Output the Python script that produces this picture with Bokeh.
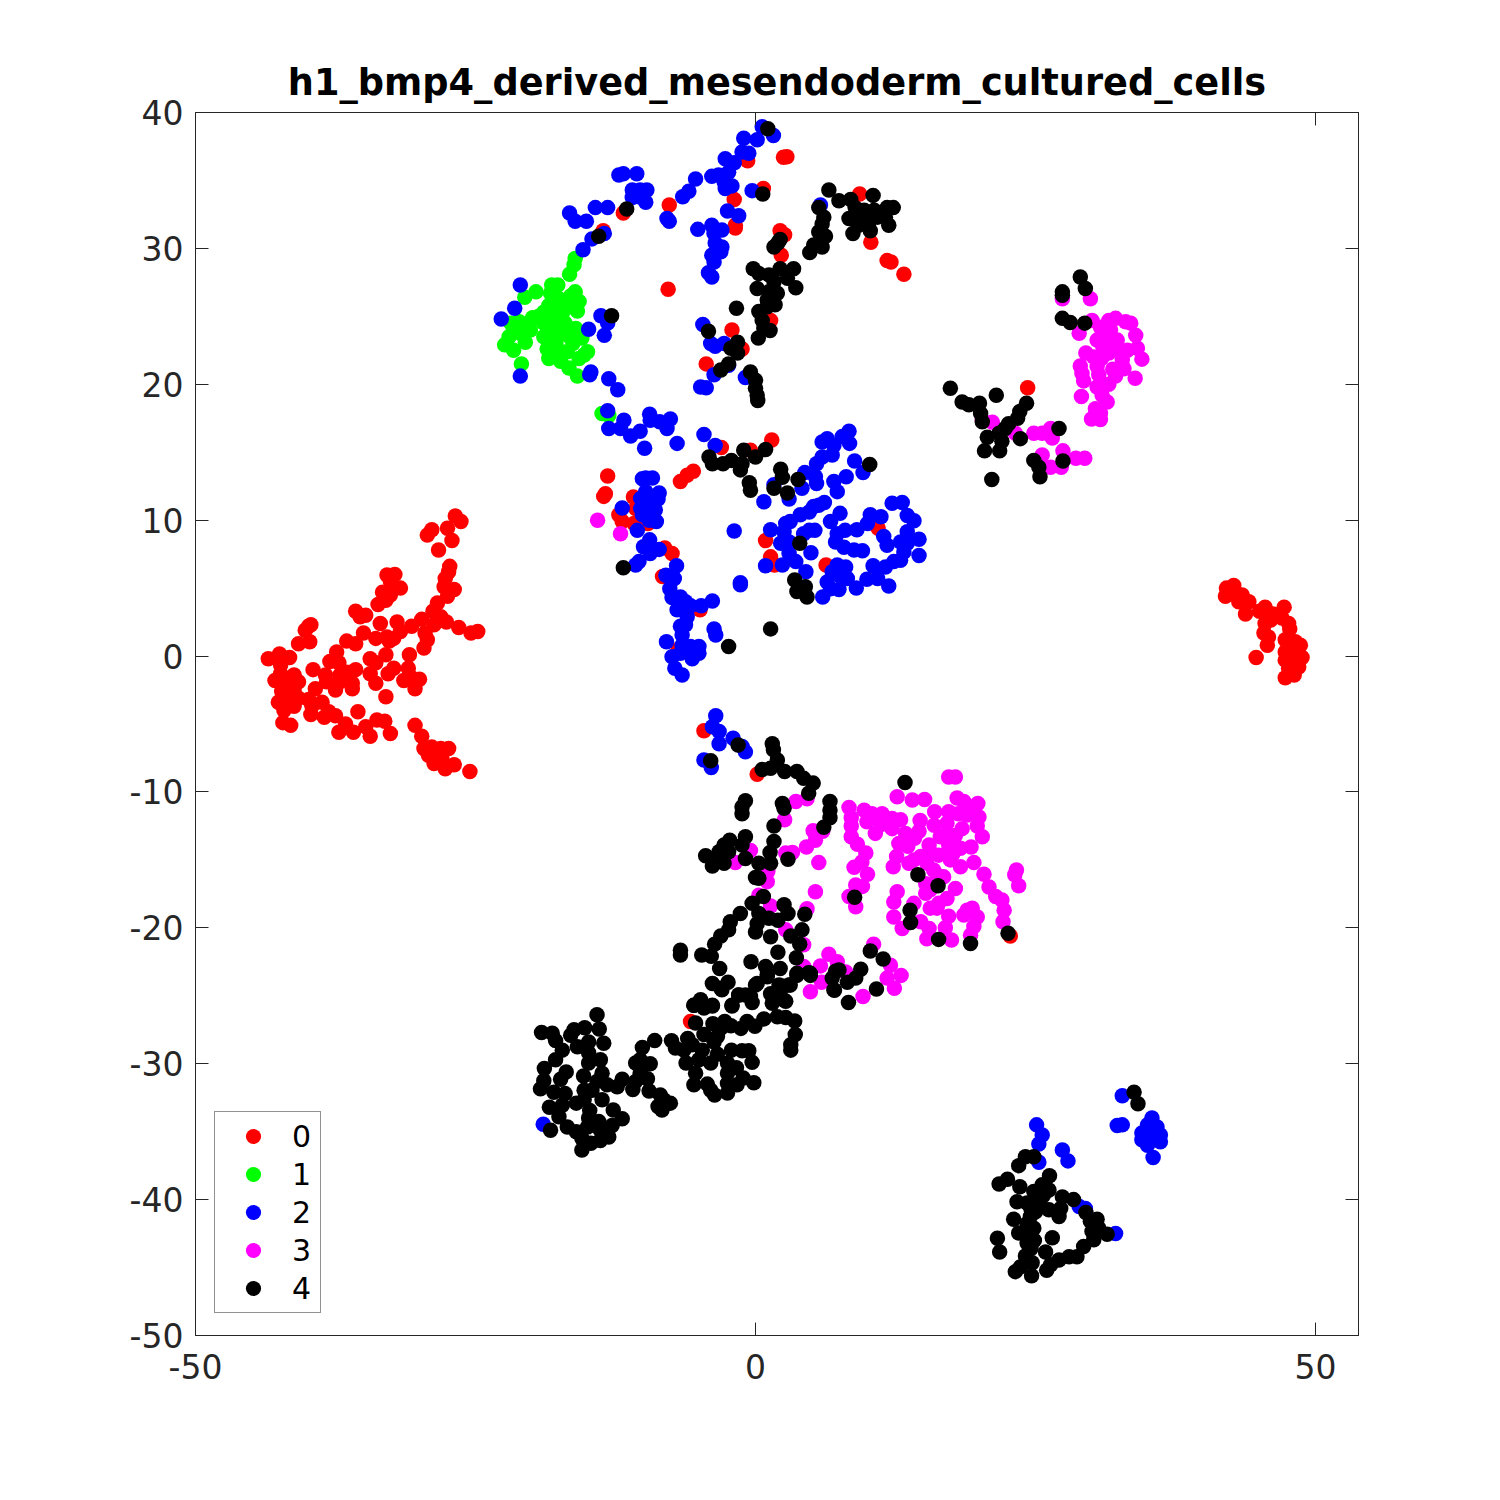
from bokeh.plotting import figure
from bokeh.embed import file_html
from bokeh.resources import INLINE
from bokeh.models import Legend, LegendItem, LinearAxis, FixedTicker, Range1d, ColumnDataSource

title_text = "h1_bmp4_derived_mesendoderm_cultured_cells"
x_ticks = [-50, 0, 50]
y_ticks = [-50, -40, -30, -20, -10, 0, 10, 20, 30, 40]
labels = ["0", "1", "2", "3", "4"]
colors = ["#ff0000", "#00ff00", "#0000ff", "#ff00ff", "#000000"]

cluster_0 = [
(-26.8,10.3),(-26.3,9.9),(-27.5,9.4),(-28.9,9.3),(-29.3,8.9),(-27.1,8.5),(-28.3,7.8),(-27.3,6.6),(-27.4,6.2),(-27.7,5.7),
(-27.8,5.1),(-26.9,4.9),(-27.5,4.4),(-28.4,3.9),(-28.8,3.3),(-28.1,2.9),(-27.6,2.5),(-26.5,2.1),(-25.4,1.7),(-24.8,1.8),
(-29.8,2.7),(-28.7,2.3),(-29.5,1.7),(-29.3,1.2),(-29.6,0.6),(-30.7,2.2),(-32,2.5),(-31.7,1.8),(-32.3,1.3),(-32.9,1.4),
(-33.9,1.3),(-33.5,2.4),(-32.7,1.1),(-33,0.1),(-30.9,0.1),(-31,-0.9),(-31.4,-1.8),(-30.7,-1.6),(-30,-1.7),(-30.4,-2.4),
(-32.3,-0.9),(-32.8,-1.3),(-34.4,-0.2),(-33.9,-0.5),(-34.4,-1.3),(-33.9,-2),(-33,-3),(-32.9,5.96),(-32.2,6),(-32.6,5.5),
(-31.7,5),(-32.4,5),(-33.3,4.7),(-32.6,4.5),(-33,4.1),(-33.7,3.8),(-35.7,3.3),(-35.3,2.9),(-34.8,3),(-35,1.7),
(-35.7,0.9),(-36.5,1.1),(-37.4,0.3),(-38,-0.4),(-37.2,-0.5),(-35.7,-1),(-36.5,-1.2),(-37.1,-1.4),(-36,-2),(-36,-2.4),
(-37.1,-1.9),(-37.5,-2.5),(-38.4,-1.4),(-38.3,-1.9),(-39.5,-1),(-39.3,-2.4),(-39.9,2.2),(-39.7,2.3),(-40.2,1.9),(-39.8,1.06),
(-40.8,0.9),(-43.5,-0.2),(-42.5,0.15),(-41.6,-0.1),(-42.4,-0.66),(-42.4,-1.3),(-42.9,-1.8),(-41.2,-1.4),(-40.8,-1.9),(-42,-1.9),
(-42.3,-2.6),(-41.2,-2.5),(-42.6,-3.4),(-41.8,-3.2),(-40.8,-3.1),(-42.1,-4),(-41.2,-3.7),(-39.9,-3.2),(-38.7,-3.4),(-39.7,-4.3),
(-39.6,-3.7),(-38.5,-4.5),(-38.1,-4.1),(-37.5,-4.4),(-35.5,-4.1),(-42.2,-4.9),(-41.5,-5.1),(-36.6,-5),(-37.2,-5.6),(-35.9,-5.6),
(-34.8,-5.2),(-34.4,-5.9),(-33.8,-4.7),(-33.1,-4.8),(-32.6,-5.7),(-30.4,-5.1),(-29.8,-5.9),(-29.6,-6.8),(-28.9,-6.7),(-28.1,-6.8),
(-27.4,-6.8),(-29.2,-7.3),(-28.4,-7.4),(-28.7,-7.9),(-27.7,-8.3),(-26.9,-8),(-28,-7.5),(-25.5,-8.5),
(42.7,5.2),(42.05,5),(41.96,4.4),(42.86,4.7),(43.45,4.5),(44.05,4),(43.15,4),(43.75,3.1),(45,3.3),(45.5,3.6),
(47.2,3.6),(46.2,3.1),(47,2.8),(47.6,2.4),(45.5,2.4),(46,2.65),(45.4,1.7),(45.8,1.4),(45.7,0.8),(47.7,2),
(47.3,1.2),(48.2,1.06),(48.65,0.8),(47.3,0.3),(48.1,0.4),(48.8,-0.1),(47.3,-0.3),(48.2,-0.3),(48.5,-0.8),(47.6,-0.9),
(48.1,-1.4),(47.3,-1.6),(44.7,-0.1),
(2.5,36.7),(2.8,36.75),(-0.7,36.45),(0.7,34.4),(-1.9,33.6),(-7.7,33.2),(-11.8,32.6),(-13.6,31.3),(-1.8,31.5),(-1.8,31.7),
(2.2,31.3),(2.6,31),(2.3,29.5),(-7.8,27),(-2.1,24),(1.35,24.7),(-1.2,22.6),(-4.4,21.5),(9.3,34),(10.3,30.45),
(11.75,29.1),(12.1,29),(13.25,28.1),
(1.45,15.9),(-3.05,15.35),(-0.45,15.15),(-5.55,13.6),(-6.1,13.3),(-6.7,12.85),(-13.2,13.25),(-13.4,11.95),(-13.55,11.75),(-10.9,11.7),
(-10.7,10.85),(-12.2,10.4),(-11.9,9.9),(-10.85,9.75),(-9.6,9.75),(-8.1,7.95),(-7.45,7.55),(-8.3,5.85),(-4.95,3.4),(-6.9,0.5),
(10.95,9.4),(0.9,8.5),(1.35,7.3),(1.7,6.7),(6.3,6.7),
(24.3,19.75),(-4.6,-5.5),(0.15,-8.7),(22.75,-20.6),(-5.8,-26.9),
]

cluster_1 = [
(-16.1,29.25),(-16.2,28.8),(-16.6,28.1),(-18.2,27.3),(-17.65,27.3),(-19.6,26.8),(-20.6,26.4),(-18.3,26.7),(-17.55,26.3),(-16.1,26.8),
(-15.75,26.1),(-18.45,25.8),(-16.65,25.7),(-17.25,25.2),(-19.35,25),(-17.85,24.7),(-21.1,24.6),(-21.85,24.5),(-20.2,24.5),(-18.9,24.5),
(-17,24.5),(-21.6,24),(-20.1,24),(-18.45,24),(-16.05,24.1),(-17.4,24),(-22,23.5),(-18.9,23.5),(-17.85,23.5),(-16.8,23.6),
(-15.5,23.4),(-20.55,23.1),(-22.4,22.9),(-21.6,22.5),(-18.6,22.6),(-15,22.4),(-16.8,22.4),(-15.75,21.9),(-18.45,21.9),(-17.4,21.7),
(-16.65,21.2),(-20.9,21.5),(-15.9,20.6),(-15.3,22.15),(-13.7,17.85),(-13.1,17.7),
(-17.8,22.9),(-19.9,24.9),(-16.3,23),(-17.9,25.6),(-18.9,25.3),(-17.6,22.3),(-15.9,25.4),(-20.9,23.7),(-16.5,26.5),
]

cluster_2 = [
(0.6,38.95),(1.6,38.3),(0.15,38),(-1.05,38.1),(-1.2,37.1),(-0.6,37),(-2.7,36.6),(-1.9,36.3),(-2.4,35.6),(-3.9,35.3),
(-3.3,35.4),(-2.8,34.9),(-2.7,34.4),(-2.1,34.6),(-5.35,35.1),(-5.95,34.2),(-6.5,33.8),(-0.3,34.25),(-12.2,35.4),(-11.8,35.5),
(-10.6,35.5),(-11,34.3),(-9.7,34.3),(-10.3,34.3),(-11,33.75),(-9.8,33.4),(-10.4,33.8),(-16.6,32.6),(-16.1,32),(-15.1,32),
(-14.3,33),(-13.2,33),(-7.9,32.2),(-7.7,32),(-2.5,32.75),(-1.5,32.4),(-14.6,30.7),(-13.5,31.1),(-15.4,29.9),(-5.15,31.4),
(-3.9,31.7),(-3,31.35),(-3.7,31.1),(-3.6,30.4),(-3,30.1),(-3.9,29.5),(-3.1,29.75),(-3.7,29),(-4.2,28.2),(-3.9,27.9),
(-21,27.3),(-21.5,25.6),(-22.7,24.8),(-13.8,25.05),(-14.9,24.05),(-13.2,24.5),(-13.5,23.6),(-4.7,24.4),(-4,23),(-2.8,23),
(-3.6,22.8),(-3.7,20.7),(-2.4,21.4),(-0.9,20.5),(-4.9,19.8),(-4.4,19.75),(-14.7,20.9),(-14.8,20.7),(-13.1,20.4),(-12.3,19.6),
(-21,20.6),(5.8,33.2),
(-13.2,18.05),(-13.1,16.75),(-11.75,17.35),(-12.05,16.75),(-11.15,16.2),(-10.3,16.55),(-9.9,15.3),(-9.45,17.8),(-9.4,17.35),(-8.55,17.25),
(-7.6,17.45),(-7.9,16.75),(-7,15.65),(-4.6,16.3),(-3.6,15.5),(-9.8,13.1),(-9.2,13.1),(-10.1,13.05),(-9.8,12.1),(-8.6,12),
(-8.7,11.55),(-10.25,11.6),(-9.7,11.35),(-11.9,10.9),(-10.25,10.85),(-8.95,10.75),(-9.4,10.5),(-10.1,10.4),(-8.85,9.9),(-9.5,10),
(-10.55,9.25),(-9.45,8.55),(-10,8.05),(-9.4,7.55),(-8.6,7.85),(-10.4,6.95),(-10.7,6.7),(-7.05,6.65),(-8,5.95),(-7.25,5.7),
(-7.65,4.95),(-7.45,4.3),(-6.7,4.35),(-6.25,4),(-7,3.4),(-5.8,3.7),(-4.85,3.7),(-3.85,4.05),(-6.1,2.9),(-6.25,2.3),
(-6.7,2.2),(-6.55,1.55),(-3.7,2),(-3.55,1.55),(-7.95,1.05),(-6.55,0.8),(-5.8,0.7),(-5.05,0.7),(-5.05,0.2),(-7.45,-0.05),
(-6.7,0.2),(-5.65,-0.2),(-7.2,-0.9),(-6.55,-1.4),(-1.9,9.2),(-1.35,5.4),(-1.35,5.25),(0.75,11.35),(1.35,9.3),(0.9,6.65),
(2.4,6.7),(3,11.55),(1.65,12.6),(2.7,9.75),(2.55,9.15),(2.25,8.3),(3.1,9.9),(3,8.4),(3,7.55),(3.6,6.95),
(4.5,6.2),(4,10.4),(4.8,10.6),(5.2,11),(6.15,11.3),(5.65,11.1),(4.8,9.25),(5.3,9.25),(4.95,7.6),(4.3,9),
(7.55,10.5),(6.7,9.9),(7.3,9),(7.15,8.4),(8,9.25),(9.05,9.3),(7.9,8),(8.8,7.8),(9.55,7.75),(10,9.75),
(10.25,10.4),(11.2,10.25),(12.2,11.25),(13.1,11.3),(13.55,10.35),(14.15,9.95),(13.55,9.15),(11.45,8.8),(11.75,8.15),(14.6,8.6),
(12.95,8.4),(13.55,8.3),(14.6,7.4),(13.25,7.65),(12.95,7.05),(12.35,6.95),(11.6,6.55),(10.5,6.65),(9.95,5.65),(10.9,5.7),
(11.9,5.15),(9,5),(7.3,6.7),(8.05,6.55),(6.85,6.2),(7.6,5.85),(8.2,5.7),(6.4,5.45),(7.45,4.9),(6.7,4.95),
(6,4.35),(6.4,16),(5.95,15.75),(8.35,16.55),(7.75,16.15),(8.4,15.65),(7,15.5),(6.85,14.8),(5.95,14.65),(5.45,14.15),
(4.4,13.5),(5.35,13.2),(5.45,12.7),(4.15,12.35),(7,12.85),(8.1,13.2),(7.3,12.1),(8.85,14.35),(9.6,13.5),
(32.75,-32.35),(32.3,-34.55),(32.75,-34.5),(35.4,-34),(35,-34.5),(35.85,-34.65),(34.5,-35.1),(35.25,-35),(36.15,-35.25),(34.5,-35.6),
(35.4,-35.6),(36.15,-35.75),(35,-36),(35.5,-36.9),(25.1,-34.5),(25.6,-35.25),(25.3,-35.9),(27.4,-36.35),(27.9,-37.15),(25.3,-37.25),
(28.9,-40.5),(29.45,-40.65),(32.15,-42.5),
(-3.55,-4.4),(-3.85,-5.2),(-3.25,-5.55),(-3.25,-6.45),(-2,-6.05),(-0.9,-7.05),(-4.6,-7.65),(-3.95,-8.2),(-1.2,-6.65),(-18.95,-34.45),
]

cluster_3 = [
(-14.1,10),(-12.05,9),
(29.9,26.3),(27.4,26.3),(28.9,23.75),(30.05,24.7),(31.55,24.7),(32.15,24.85),(33.05,24.6),(33.5,24.5),(33.95,23.6),(30.8,24.2),
(31.7,24),(30.5,23.25),(31.4,23.4),(32.3,23.25),(31.1,23.85),(34.1,22.65),(33.2,22.5),(34.5,21.85),(31.55,22.3),(29.5,22.3),
(30.2,22),(32.75,21.8),(29,21.35),(30.5,21.3),(32.9,21.15),(29.15,20.8),(30.65,20.7),(32.15,20.6),(29.3,20.25),(33.9,20.45),
(31.55,20),(30.5,19.8),(29.1,19.1),(30.95,19.2),(31.4,18.7),(30.35,18.2),(30.8,17.85),(30,17.45),(30.8,17.4),(20.25,17.4),
(21.15,17.2),(23.2,16.4),(24.85,16.4),(25.6,16.4),(26.35,16.75),(26.5,16.05),(25.6,14.8),(27.45,15.1),(28.6,14.55),(29.4,14.55),
(26.35,13.9),(27.3,13.9),
(17.25,-8.9),(17.85,-8.9),(12.65,-10.35),(14,-10.6),(15.1,-10.55),(18,-10.45),(18.6,-10.7),(19.85,-10.85),(19.2,-11.1),(16,-11.45),
(17.25,-11.45),(18.9,-11.7),(19.95,-11.85),(8.35,-11.15),(9.7,-11.35),(10.4,-11.6),(11.3,-11.6),(8.55,-11.9),(9.95,-12.2),(12.2,-11.95),
(12.95,-12.05),(14.7,-12.1),(8.55,-12.5),(10.7,-13.05),(12.2,-12.7),(13.4,-13.05),(15.95,-12.45),(17.1,-12.3),(18.45,-12.7),(19.8,-12.5),
(17.85,-13.2),(16.5,-13.3),(20.25,-13.3),(8.55,-13.3),(9.1,-13.85),(12.8,-13.8),(13.6,-14),(15.5,-13.9),(17.25,-13.9),(19.25,-14.05),
(18.3,-14.15),(9.85,-14.5),(12.6,-14.75),(16.35,-14.65),(14.75,-14.75),(14.15,-15),(17.4,-15),(19.5,-15.2),(9.5,-15.15),(12.3,-15.5),
(13.7,-15.25),(15.3,-15.25),(18.3,-15.5),(8.8,-15.55),(10,-16.05),(20.4,-16.05),(23.3,-15.75),(23.15,-16.1),(23.5,-16.9),(16.8,-16.25),
(15.9,-15.75),(15.2,-16.75),(17.85,-17.1),(20.85,-17),(8.95,-16.85),(9.55,-16.95),(12.65,-17.35),(15.2,-17.45),(17.1,-17.85),(21.45,-17.7),
(12.35,-18.1),(8.35,-17.7),(8.95,-18.45),(16.35,-18.2),(22,-17.95),(14.15,-18.2),(22.2,-18.7),(15.6,-18.55),(16.2,-18.55),(18.9,-18.7),
(19.35,-18.55),(17.25,-19.15),(18.6,-19.05),(19.8,-19.2),(12.35,-19.2),(13.1,-20.05),(14.75,-19.55),(15.5,-20.05),(16.95,-20),(19.5,-19.9),
(22.1,-19.55),(15.3,-20.8),(17.5,-20.9),(19.2,-20.55),(10.55,-21.2),(12.05,-22.75),(6.55,-21.95),(7.3,-22.5),(5.8,-22.8),(4.3,-22.85),
(13,-23.5),(11.75,-23.7),(12.4,-24.45),(8.05,-23.25),(5.9,-24),(4.9,-24.7),(9.6,-25.05),(3.6,-10.7),(4.6,-10.5),(2.6,-12.05),
(6,-12.9),(5.15,-12.85),(5.35,-13.55),(4.55,-14.05),(5.65,-15.2),(5.35,-17.35),(3.3,-14.45),(2.7,-14.5),(-0.45,-14.3),(-1.8,-15.2),
(1.1,-15.85),(1.05,-16.6),(0.3,-17.6),(1.35,-18.4),(4.6,-18.6),(2.7,-20.15),(4.3,-21.25),
(15.6,-14.4),(16.9,-13.2),(14.2,-13.4),(17.6,-14.6),(11.2,-12.4),(16.2,-16.1),(15.6,-17.2),(14.6,-12.9),(18.1,-11.6),(31,22.8),(32,22.6),(30.9,21.9),(31.9,21.1),
]

cluster_4 = [
(1.1,38.8),(0.65,34),(-11.5,32.9),(-14,30.9),(-12.85,25.05),(-4.2,23.9),(-1.7,25.6),(-1.6,23.1),(-2.2,22.65),(-1.6,22.3),
(-2.4,21.5),(-3.1,21.05),(-0.45,20.9),(0,20.3),(0,19.7),(0.15,19.2),(6.55,34.3),(7.45,33.5),(8.5,33.6),(10.5,33.9),
(5.65,33),(6.1,32.3),(5.95,31.8),(5.65,31.2),(6.25,30.9),(5.95,30.1),(5.2,30.25),(4.85,29.7),(8.9,33),(9.7,32.8),
(10.6,32.8),(11.75,33),(12.3,33),(11.6,32.3),(8.35,32.2),(9.1,32.2),(10,32.2),(10.9,32.3),(9.2,31.7),(10.1,31.85),
(11.9,31.7),(8.7,31.1),(10.25,31.3),(2.2,30.65),(1.65,30.1),(2,30.4),(-0.2,28.5),(0.3,28.15),(1.2,28.05),(2.2,28.5),
(3.4,28.5),(2.85,27.8),(3.6,27.1),(1.65,27.55),(0.15,27.05),(1.2,26.8),(1.95,26.7),(1.05,26.2),(1.75,25.85),(0.3,25.35),
(1.05,25.7),(0.6,24.7),(0.75,24.1),(1.3,23.95),(0.25,23.4),
(0.2,18.8),(-4.15,14.65),(-3.85,14.15),(-2.9,14.15),(-2.15,14.4),(-1.35,13.7),(-1.2,14.15),(-1.05,15.15),(0,14.65),(0.9,15.2),
(-0.55,12.75),(-0.45,12.2),(2.25,13.75),(2.4,13.15),(3.8,13),(1.65,12.35),(2.85,12),(10.2,14.1),(3.95,8.3),(-11.8,6.5),
(3.5,5.6),(4.45,5.1),(3.7,4.75),(4.6,4.35),(1.35,2),(-2.4,0.7),
(29,27.9),(29.45,27.05),(27.4,26.8),(27.4,26.55),(27.4,24.85),(28.1,24.55),(29.4,24.5),(17.4,19.7),(18.45,18.7),(19.05,18.5),
(20,18.6),(21.5,19.2),(20.1,17.85),(20.25,17.25),(24.2,18.6),(23.6,18),(23.4,17.5),(22.6,17.1),(22.3,16.75),(21.75,16.4),
(20.7,16.1),(22,15.8),(21.8,15.1),(20.45,15.1),(23.65,16),(27.1,16.75),(27.45,14.35),(24.85,14.4),(25.3,13.9),(25.4,13.2),
(21.1,13),
(33.8,-32.1),(34.15,-32.95),(24.85,-36.85),(24.1,-36.85),(23.5,-37.5),(26.25,-38.25),(22.5,-38.5),(21.75,-38.85),(23.6,-39.05),(25.6,-38.9),
(24.85,-39.4),(26.2,-39.3),(23.35,-40.15),(27.4,-39.8),(28.4,-40),(24.25,-40.25),(25.3,-40.15),(26.2,-40.75),(27.25,-40.65),(27.1,-41.25),
(29.5,-40.95),(24.55,-41.25),(23.05,-41.45),(30.5,-41.45),(29.9,-41.6),(24.85,-42.1),(23.5,-42.45),(24.25,-41.75),(30.65,-42.1),(31.4,-42.55),
(30.05,-42.35),(21.6,-42.85),(26.5,-42.8),(30.2,-42.95),(24.25,-43.2),(21.8,-43.85),(29.3,-43.45),(25.9,-43.85),(24.1,-44.15),(28.7,-44.2),
(28,-44.2),(27.1,-44.45),(24.7,-44.65),(26.35,-44.8),(23.65,-44.95),(26,-45.2),(23.2,-45.3),(24.65,-45.6),
(24.6,-40.7),(25,-40.9),(24.4,-42.6),(24.6,-43.6),(24.9,-43),(25,-39.9),(25.7,-39.7),(25.5,-40.5),
(-1.55,-6.55),(-4,-7.7),(1.5,-6.45),(1.6,-6.9),(1.95,-7.65),(0.6,-8.35),(1.35,-8.25),(2.6,-8.5),(3.7,-8.5),(4.3,-9),
(5.15,-9.35),(4.75,-10.1),(13.35,-9.3),(-0.9,-10.65),(-1.2,-11.1),(-1.2,-11.6),(2.4,-10.85),(2.55,-11.2),(6.65,-10.7),(6.65,-11.35),
(6.65,-11.9),(6.1,-12.6),(1.65,-12.5),(-0.9,-13.3),(-1.2,-13.9),(1.65,-13.65),(-2.3,-13.55),(-2.8,-13.9),(1.3,-14.45),(-2.4,-14.4),
(-3.25,-14.4),(-4.45,-14.7),(-3.55,-15),(-2.8,-15.25),(-3.85,-15.45),(-0.9,-14.9),(1.35,-15.25),(0.3,-15.25),(2.9,-14.95),(0,-16.3),
(0.3,-16.35),(14.5,-16.1),(16.3,-16.9),(8.85,-17.75),(13.8,-18.7),(13.85,-19.6),(16.35,-20.85),(19.2,-21.15),(22.55,-20.4),(10.25,-21.7),
(11.4,-22.3),(10.8,-24.5),(8.2,-24),(7.05,-24.6),(6.85,-23.7),(7.45,-23.1),(8.95,-23.7),(9.4,-23.05),(8.3,-25.5),(4.9,-23.5),
(4.75,-23.3),(3.7,-23.5),(3.65,-22.2),(2,-21.8),(-0.4,-22.5),(-3.2,-23),(-4.8,-22),(-3.95,-22.1),(-3.65,-21.2),(-3.1,-20.6),
(-2.4,-20.15),(-2.25,-19.55),(-1.35,-18.95),(-0.3,-18.2),(0.7,-17.7),(0.3,-18.95),(0,-20.3),(0.15,-19.7),(1.35,-20.65),(1.2,-19.3),
(2,-19.45),(2.55,-18.3),(2.9,-18.95),(4.4,-19),(4.15,-20.15),(3.15,-20.6),(3.95,-21.2),(0.9,-22.85),(1.05,-23.45),(2.2,-23),
(-3.85,-24.1),(-2.45,-24),(-3,-24.55),(-1.5,-24.95),(-0.9,-24.95),(0,-24.2),(1.35,-24.85),(2.1,-24.2),(3,-24.2),(2.7,-25.4),
(1.5,-25.55),(-0.3,-25.5),(-2.1,-25.7),(-4.9,-25.45),(-3.85,-25.7),(-5.5,-25.7),
(-6.7,-21.65),(-6.7,-22),(-3.1,-24.45),(-4.9,-25.3),(-5.5,-25.7),(-3.85,-25.75),(-4.6,-25.9),(-2.1,-25.75),(2.5,-25.3),
(-14.15,-26.4),(-19.1,-27.7),(-18.15,-27.75),(-17.85,-28.3),(-16.2,-27.5),(-16.5,-27.9),(-15.25,-27.35),(-13.95,-27.45),(-13.55,-28.5),(-14.9,-28.4),
(-15.9,-28.75),(-17.25,-29),(-17.85,-29.7),(-14.9,-29.2),(-13.85,-29.7),(-14.9,-29.95),(-18.85,-30.35),(-16.9,-30.6),(-17.4,-31.15),(-15.35,-30.9),
(-18.9,-31.25),(-19.2,-31.85),(-13.7,-30.7),(-14.15,-31.3),(-11.9,-31.15),(-12.35,-31.7),(-13.25,-31.55),(-15.3,-31.95),(-18,-32.1),(-17,-32.2),
(-14.6,-31.95),(-13.7,-32.65),(-15.3,-32.65),(-16,-32.9),(-17.25,-33.05),(-18.4,-33.2),(-12.7,-33.4),(-14.8,-33.45),(-11.9,-34.05),(-17.55,-33.9),
(-14.9,-34),(-14,-34.25),(-12.8,-34.55),(-18.3,-34.9),(-16.8,-34.65),(-15,-34.65),(-16,-35),(-13.85,-34.9),(-13.1,-35.4),(-15.5,-35.5),
(-13.85,-35.65),(-14.7,-35.85),(-15.5,-36.35),(-10.1,-28.8),(-9,-28.3),(-10.3,-29.7),(-9.4,-30),(-10.7,-29.95),(-10.3,-30.7),(-10.7,-31.3),
(-9.65,-31.1),(-10.95,-31.9),(-9.5,-32),(-8.5,-32.3),(-8.2,-32.65),(-7.6,-32.9),(-8.7,-33.15),(-8.35,-33.4),(-7.5,-28.3),(-7.15,-28.85),
(-6.05,-28.15),(-5.65,-28.6),(-4.75,-29),(-6.4,-29),(-6.2,-29.95),(-5.05,-29.7),(-5.35,-27),(-3.8,-27.05),(-2.75,-26.9),(-2.2,-27.2),
(-3.1,-27.4),(-4.6,-27.85),(-3.4,-28),(-3.7,-28.4),(-1.3,-27.4),(-0.75,-26.9),(-0.05,-27.25),(0.75,-26.7),(1.95,-26.55),(2.7,-26.6),
(3.5,-26.85),(3.55,-27.85),(3.15,-28.6),(3.15,-29),(-2.15,-29),(-1.2,-29.05),(-0.6,-29.05),(-0.3,-29.9),(-3.4,-29.3),(-4,-29.95),
(-2.5,-29.95),(-1.7,-30.3),(-5.35,-30.7),(-5.5,-31.55),(-2.5,-30.7),(-1.1,-31.05),(-0.15,-31.4),(-1.65,-31.55),(-2.5,-31.45),(-4.3,-31.5),
(-4,-31.95),(-3.65,-32.3),(-2.5,-32.15),(2.5,-24.3),(1.65,-24.95),(-1.5,-24.95),(-0.45,-25.05),(1.05,-23.6),(0.15,-24.1),(3.1,-24.2),
(4.9,-23.35),(7,-24.55),(7.15,-23.2),(3.7,-23.35),
]

clusters = [cluster_0, cluster_1, cluster_2, cluster_3, cluster_4]

INK = "#262626"
p = figure(
    frame_width=1163, frame_height=1223,
    x_range=Range1d(-50, 53.84), y_range=Range1d(-50, 40),
    output_backend="svg", toolbar_location=None,
    x_axis_location="below", y_axis_location="left",
    min_border_left=195, min_border_right=126, min_border_top=112, min_border_bottom=133,
    background_fill_color="white", border_fill_color="white",
)
p.grid.visible = False
p.outline_line_color = INK
p.outline_line_width = 1

p.title.text = title_text
p.title.align = "center"
p.title.text_font = "DejaVu Sans"
p.title.text_font_style = "bold"
p.title.text_font_size = "36.7px"
p.title.text_color = "#000000"
p.title.standoff = 18

def style(ax, ticks, font_size, standoff, overrides):
    ax.ticker = FixedTicker(ticks=ticks)
    ax.major_tick_in = 13
    ax.major_tick_out = 0
    ax.minor_tick_line_color = None
    ax.axis_line_color = INK
    ax.major_tick_line_color = INK
    ax.major_label_text_font = "DejaVu Sans"
    ax.major_label_text_font_size = font_size
    ax.major_label_text_color = INK
    ax.major_label_standoff = standoff
    ax.major_label_overrides = overrides

style(p.xaxis[0], x_ticks, "33px", 18, {t: str(t) for t in x_ticks})
style(p.yaxis[0], y_ticks, "33px", 12, {t: str(t) for t in y_ticks})
top = LinearAxis(); style(top, x_ticks, "1px", 0, {t: "" for t in x_ticks})
right = LinearAxis(); style(right, y_ticks, "1px", 0, {t: "" for t in y_ticks})
p.add_layout(top, "above")
p.add_layout(right, "right")

items = []
for lab, col, pts in zip(labels, colors, clusters):
    src = ColumnDataSource(dict(x=[a for a, _ in pts], y=[b for _, b in pts]))
    r = p.scatter("x", "y", source=src, size=15.5, marker="circle",
                  fill_color=col, line_color=col, line_width=0)
    items.append(LegendItem(label=lab, renderers=[r]))

legend = Legend(
    items=items, location=(19, 22), orientation="vertical",
    padding=5, margin=0, spacing=0,
    glyph_width=66, glyph_height=38, label_standoff=6, label_width=23, label_height=38,
    label_text_font="DejaVu Sans", label_text_font_size="30px", label_text_color="#000000",
    border_line_color=INK, border_line_width=1, background_fill_color="white", background_fill_alpha=1,
)
p.add_layout(legend, "center")

open("out.html", "w").write(file_html(p, INLINE))
